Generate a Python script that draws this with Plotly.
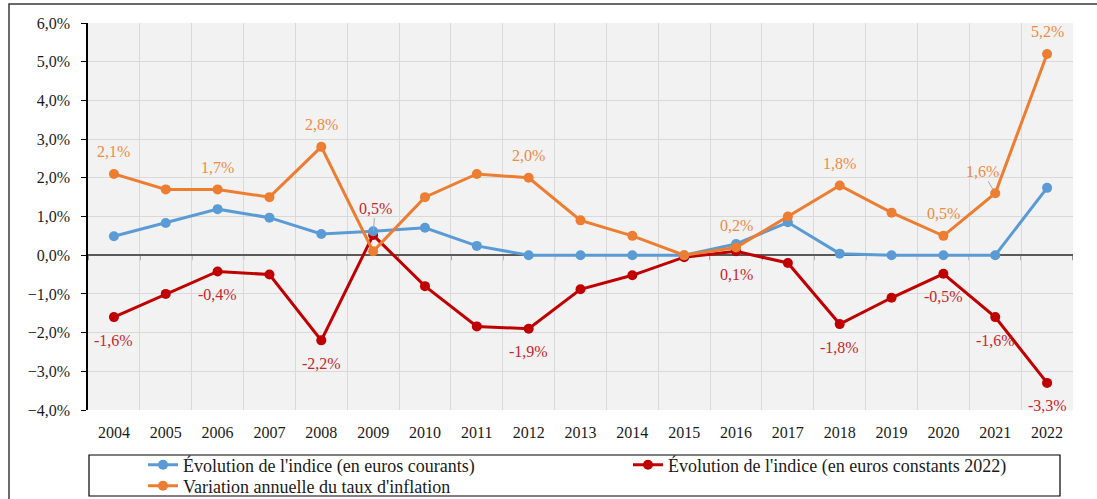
import plotly.graph_objects as go

years = [str(y) for y in range(2004, 2023)]
courants = [0.49, 0.83, 1.19, 0.97, 0.55, 0.62, 0.71, 0.24, 0.0, 0.0, 0.0, 0.0, 0.29, 0.85, 0.04, 0.0, 0.0, 0.0, 1.74]
constants = [-1.6, -1.0, -0.42, -0.5, -2.2, 0.52, -0.8, -1.84, -1.9, -0.88, -0.52, -0.05, 0.1, -0.2, -1.78, -1.1, -0.48, -1.6, -3.3]
inflation = [2.1, 1.7, 1.7, 1.5, 2.8, 0.1, 1.5, 2.1, 2.0, 0.9, 0.5, 0.0, 0.2, 1.0, 1.8, 1.1, 0.5, 1.6, 5.2]

labeled_inflation = ["2004", "2006", "2008", "2012", "2016", "2018", "2020", "2022"]
labeled_constants = ["2004", "2006", "2008", "2012", "2016", "2018", "2020", "2021", "2022"]

names = ["Évolution de l'indice (en euros courants)",
         "Évolution de l'indice (en euros constants 2022)",
         "Variation annuelle du taux d'inflation"]
C_BLUE, C_RED, C_ORANGE = "#5b9bd5", "#c00000", "#ed7d31"
T_RED, T_ORANGE = "#c8262b", "#f08a43"
FONT = "Liberation Serif"
TXT = "#1a1a1a"

# plot area in pixels
W, H = 1097, 499
L, R, T, B = 88, 24, 23, 89
PW, PH = W - L - R, H - T - B
def px_x(p): return (p - L) / PW
def px_y(p): return (H - B - p) / PH

def fmt(v):
    return ("%.1f" % v).replace(".", ",") + "%"

fig = go.Figure()
fig.add_trace(go.Scatter(x=years, y=constants, name=names[1], mode="lines+markers", legend="legend2",
                         line=dict(color=C_RED, width=3), marker=dict(size=10, color=C_RED)))
fig.add_trace(go.Scatter(x=years, y=courants, name=names[0], mode="lines+markers", legend="legend",
                         line=dict(color=C_BLUE, width=3), marker=dict(size=10, color=C_BLUE)))
fig.add_trace(go.Scatter(x=years, y=inflation, name=names[2], mode="lines+markers", legend="legend3",
                         line=dict(color=C_ORANGE, width=3), marker=dict(size=10, color=C_ORANGE)))

ann = []
for yr in labeled_inflation:
    i = years.index(yr)
    ann.append(dict(x=i, y=inflation[i], xref="x", yref="y", text=fmt(inflation[i]), showarrow=False, yshift=22,
                    font=dict(family=FONT, size=16, color=T_ORANGE)))
i = years.index("2021")
ann.append(dict(x=i, y=inflation[i], xref="x", yref="y", text=fmt(inflation[i]), showarrow=True, arrowhead=0,
                arrowwidth=1, arrowcolor="#a6a6a6", ax=-13, ay=-22, standoff=4,
                font=dict(family=FONT, size=16, color=T_ORANGE)))
for yr in labeled_constants:
    i = years.index(yr)
    ann.append(dict(x=i, y=constants[i], xref="x", yref="y", text=fmt(constants[i]), showarrow=False, yshift=-23,
                    font=dict(family=FONT, size=16, color=T_RED)))
i = years.index("2009")
ann.append(dict(x=i, y=constants[i], xref="x", yref="y", text=fmt(constants[i]), showarrow=True, arrowhead=0,
                arrowwidth=1, arrowcolor="#a6a6a6", ax=2, ay=-27, standoff=4,
                font=dict(family=FONT, size=16, color=T_RED)))

shapes = [
    dict(type="rect", xref="paper", yref="paper", x0=px_x(9), x1=px_x(W + 10), y0=px_y(H + 10), y1=px_y(4),
         line=dict(color="#3a3a3a", width=1.5), fillcolor="rgba(0,0,0,0)", layer="below"),
    dict(type="rect", xref="paper", yref="paper", x0=px_x(89), x1=px_x(1060), y0=px_y(496), y1=px_y(455),
         line=dict(color="#000000", width=1.2), fillcolor="rgba(0,0,0,0)"),
]
for k in range(len(years) + 1):
    shapes.append(dict(type="line", xref="x", yref="y", x0=k - 0.5, x1=k - 0.5,
                       ysizemode="pixel", yanchor=0, y0=0, y1=-5,
                       line=dict(color="#595959", width=1.2), layer="below"))

legend_common = dict(orientation="v", xanchor="left", yanchor="middle", tracegroupgap=0, itemwidth=30,
                     font=dict(family=FONT, size=18, color=TXT), bgcolor="rgba(0,0,0,0)")

fig.update_layout(
    width=W, height=H,
    margin=dict(l=L, r=R, t=T, b=B, autoexpand=False),
    paper_bgcolor="white", plot_bgcolor="#f2f2f2",
    separators=", ",
    font=dict(family=FONT, size=16, color=TXT),
    showlegend=True,
    legend=dict(x=px_x(143), y=px_y(465), **legend_common),
    legend2=dict(x=px_x(628), y=px_y(465), **legend_common),
    legend3=dict(x=px_x(143), y=px_y(486), **legend_common),
    annotations=ann, shapes=shapes,
    xaxis=dict(type="category", range=[-0.5, len(years) - 0.5], autorange=False,
               showgrid=True, gridcolor="#d9d9d9", gridwidth=1, tickson="boundaries",
               ticks="", showline=False, zeroline=False, tickangle=0,
               tickfont=dict(family=FONT, size=16, color=TXT), ticklabelstandoff=11),
    yaxis=dict(range=[-4, 6], autorange=False, dtick=1, tickformat=".1f", ticksuffix="%", showgrid=True,
               gridcolor="#d9d9d9", gridwidth=1, zeroline=True, zerolinecolor="#595959", zerolinewidth=1.5,
               showline=True, linecolor="#000000",
               linewidth=1.5, ticks="outside", ticklen=5, tickcolor="#000000",
               tickfont=dict(family=FONT, size=16, color=TXT), ticklabelstandoff=8),
)

fig.write_html("out.html", config={"displayModeBar": False},
               post_script="document.body.style.margin='0';document.body.style.overflow='hidden';")
